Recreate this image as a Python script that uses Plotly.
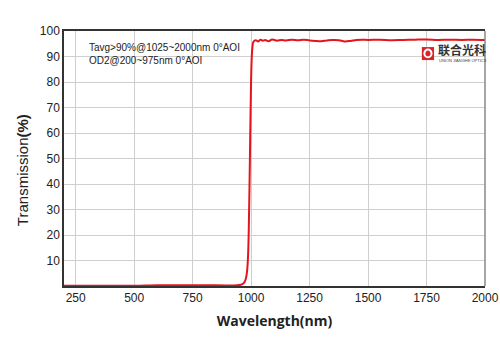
import plotly.graph_objects as go

wavelength = [200, 300, 400, 500, 600, 700, 800, 900, 940, 955, 965, 972, 978, 983, 987, 990, 993, 996, 999, 1002, 1005,
              1010, 1020, 1030, 1040, 1050, 1060, 1075, 1090, 1110, 1130, 1150, 1175, 1200, 1225, 1250, 1275, 1300,
              1325, 1350, 1375, 1400, 1425, 1450, 1475, 1500, 1550, 1600, 1650, 1700, 1750, 1800, 1850, 1900, 1950, 2000]
transmission = [0.1, 0.1, 0.1, 0.1, 0.3, 0.3, 0.3, 0.2, 0.3, 0.5, 0.9, 1.6, 3.0, 6.0, 12.0, 22.0, 38.0, 58.0, 76.0, 88.0, 93.0,
                95.8, 96.4, 95.9, 96.6, 96.2, 96.5, 96.0, 96.7, 96.2, 96.5, 96.3, 96.6, 96.4, 96.6, 96.3, 96.1, 96.0,
                96.3, 96.5, 96.4, 95.9, 96.1, 96.5, 96.6, 96.5, 96.6, 96.4, 96.5, 96.6, 96.7, 96.5, 96.6, 96.5, 96.6, 96.5]

x_ticks = [250, 500, 750, 1000, 1250, 1500, 1750, 2000]
y_ticks = [10, 20, 30, 40, 50, 60, 70, 80, 90, 100]

notes = ["Tavg>90%@1025~2000nm 0°AOI", "OD2@200~975nm 0°AOI"]

fig = go.Figure()
fig.add_trace(go.Scatter(x=wavelength, y=transmission, mode="lines",
                         line=dict(color="#e3141b", width=2), line_shape="spline", showlegend=False))

fig.update_layout(
    width=500, height=353,
    margin=dict(l=64, r=15, t=31, b=67),
    paper_bgcolor="white", plot_bgcolor="white",
    font=dict(family="Liberation Sans, Arial", size=12, color="#222"),
)
fig.update_xaxes(range=[200, 2000], tickvals=x_ticks, ticktext=[str(v) for v in x_ticks],
                 showgrid=True, gridcolor="#cfcfcf", gridwidth=1,
                 showline=True, linecolor="#333", linewidth=1.5, mirror=True,
                 ticks="", zeroline=False, automargin=False,
                 title=dict(text="<b>Wavelength(nm)</b>", font=dict(family="Open Sans, Liberation Sans", size=14, color="#222"), standoff=12))
fig.update_yaxes(range=[0, 100], tickvals=y_ticks, ticktext=[str(v) for v in y_ticks],
                 showgrid=True, gridcolor="#cfcfcf", gridwidth=1,
                 showline=True, linecolor="#333", linewidth=1.5,
                 ticks="", zeroline=False, automargin=False)

# y axis title placed as annotation
fig.add_annotation(x=-0.097, y=0.455, xref="paper", yref="paper", text="Transmission<b>(%)</b>",
                   textangle=-90, showarrow=False, xanchor="center", yanchor="middle",
                   font=dict(family="Liberation Sans, Arial", size=15, color="#222"))

# right border (gray)
fig.add_shape(type="line", xref="paper", yref="paper", x0=1, x1=1, y0=0, y1=1,
              line=dict(color="#888", width=1.5))

for i, t in enumerate(notes):
    fig.add_annotation(x=0.055, y=0.935 - i * 0.052, xref="paper", yref="paper", text=t,
                       showarrow=False, xanchor="left", yanchor="middle",
                       font=dict(family="Liberation Sans, Arial", size=10, color="#222"))

# logo
fig.add_shape(type="rect", xref="paper", yref="paper", x0=0.850, x1=0.879, y0=0.886, y1=0.937,
              fillcolor="#d9252a", line=dict(width=0))
fig.add_shape(type="circle", xref="paper", yref="paper", x0=0.856, x1=0.873, y0=0.897, y1=0.927,
              fillcolor="#d9252a", line=dict(color="white", width=2))
fig.add_annotation(x=0.884, y=0.928, xref="paper", yref="paper", text="<b>联合光科</b>",
                   showarrow=False, xanchor="left", yanchor="middle",
                   font=dict(family="Noto Sans CJK SC", size=12, color="#333"))
fig.add_annotation(x=0.885, y=0.884, xref="paper", yref="paper", text="UNION JIANGHE OPTICS",
                   showarrow=False, xanchor="left", yanchor="middle",
                   font=dict(family="Liberation Sans", size=4, color="#444"))

fig.write_html("out.html", config={"displayModeBar": False},
               post_script="document.body.style.margin='0';")
